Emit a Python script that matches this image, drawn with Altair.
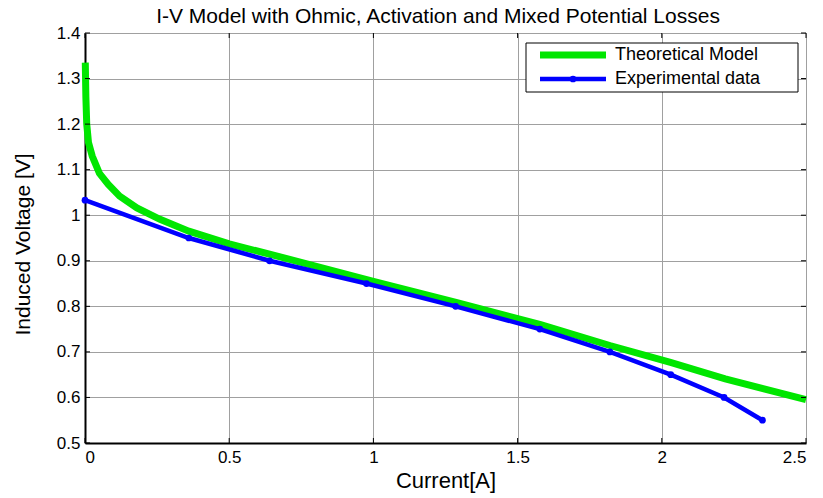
import altair as alt
import pandas as pd

# Theoretical I-V curve (ohmic + activation + mixed potential losses)
theory_current = [0.001, 0.003, 0.006, 0.012, 0.025, 0.05, 0.08, 0.12, 0.18, 0.26,
                  0.36, 0.5, 0.68, 1.0, 1.29, 1.58, 1.82, 2.03, 2.22, 2.5]
theory_voltage = [1.335, 1.26, 1.20, 1.16, 1.13, 1.092, 1.068, 1.042, 1.016, 0.991,
                  0.965, 0.937, 0.908, 0.855, 0.808, 0.760, 0.714, 0.677, 0.641, 0.595]

# Measured points
exp_current = [0.0, 0.36, 0.64, 0.976, 1.285, 1.577, 1.82, 2.031, 2.216, 2.349]
exp_voltage = [1.033, 0.95, 0.90, 0.85, 0.80, 0.75, 0.70, 0.65, 0.60, 0.55]

chart_title = ["I-V Model with Ohmic, Activation and Mixed Potential Losses"]
series_names = ["Theoretical Model", "Experimental data"]
x_ticks = [0, 0.5, 1, 1.5, 2, 2.5]
y_ticks = [0.5, 0.6, 0.7, 0.8, 0.9, 1.0, 1.1, 1.2, 1.3, 1.4]

GREEN = "#00e600"
BLUE = "#0000ff"
FONT = "Liberation Sans"
W, H = 721, 410

theory = pd.DataFrame({"current": theory_current, "voltage": theory_voltage})
exp = pd.DataFrame({"current": exp_current, "voltage": exp_voltage})
xt = pd.DataFrame({"v": x_ticks})
yt = pd.DataFrame({"v": y_ticks})

xscale = alt.Scale(domain=[0, 2.5], nice=False, zero=False)
yscale = alt.Scale(domain=[0.5, 1.4], nice=False, zero=False)

x_axis = alt.Axis(values=x_ticks, format=".1~f", grid=True, gridColor="#a0a0a0",
                  gridWidth=1, ticks=False, domainColor="black", domainWidth=2,
                  labelFont=FONT, labelFontSize=17, labelColor="black", labelPadding=6,
                  titleFont=FONT, titleFontSize=22, titleFontWeight="normal",
                  titleColor="black", titleY=37, titleBaseline="middle")
y_axis = alt.Axis(values=y_ticks, format=".1~f", grid=True, gridColor="#a0a0a0",
                  gridWidth=1, ticks=False, domainColor="black", domainWidth=2,
                  labelFont=FONT, labelFontSize=17, labelColor="black", labelPadding=5,
                  titleFont=FONT, titleFontSize=21, titleFontWeight="normal",
                  titleColor="black", titleX=-62, titleY=211, titleAngle=-90,
                  titleBaseline="middle", titleAlign="center")

X_TITLE = "Current[A]"
Y_TITLE = "Induced Voltage [V]"

theory_line = alt.Chart(theory).mark_line(color=GREEN, strokeWidth=7).encode(
    x=alt.X("current:Q", scale=xscale, axis=x_axis, title=X_TITLE),
    y=alt.Y("voltage:Q", scale=yscale, axis=y_axis, title=Y_TITLE),
)

exp_line = alt.Chart(exp).mark_line(color=BLUE, strokeWidth=4.5).encode(
    x=alt.X("current:Q", scale=xscale, title=X_TITLE),
    y=alt.Y("voltage:Q", scale=yscale, title=Y_TITLE),
)
exp_pts = alt.Chart(exp).mark_point(color=BLUE, filled=True, size=45, opacity=1).encode(
    x=alt.X("current:Q", scale=xscale, title=X_TITLE),
    y=alt.Y("voltage:Q", scale=yscale, title=Y_TITLE),
)

# Inward tick marks on all four sides
tick_style = dict(color="black", strokeWidth=1)
xt_bottom = alt.Chart(xt).mark_rule(**tick_style).encode(
    x=alt.X("v:Q", scale=xscale, title=X_TITLE), y=alt.value(H), y2=alt.value(H - 5))
xt_top = alt.Chart(xt).mark_rule(**tick_style).encode(
    x=alt.X("v:Q", scale=xscale, title=X_TITLE), y=alt.value(0), y2=alt.value(5))
yt_left = alt.Chart(yt).mark_rule(**tick_style).encode(
    y=alt.Y("v:Q", scale=yscale, title=Y_TITLE), x=alt.value(0), x2=alt.value(5))
yt_right = alt.Chart(yt).mark_rule(**tick_style).encode(
    y=alt.Y("v:Q", scale=yscale, title=Y_TITLE), x=alt.value(W), x2=alt.value(W - 5))

# Title text above the plot frame
title_df = pd.DataFrame({"t": chart_title})
title_mark = alt.Chart(title_df).mark_text(
    align="center", baseline="alphabetic", font=FONT, fontSize=21, color="black").encode(
    x=alt.value(353), y=alt.value(-10), text="t:N")

# Legend box in the upper right corner
leg_df = pd.DataFrame({"name": series_names})
leg_box = alt.Chart(leg_df.head(1)).mark_rect(fill="white", stroke="black", strokeWidth=1).encode(
    x=alt.value(441), x2=alt.value(713), y=alt.value(10), y2=alt.value(59))
leg_green = alt.Chart(leg_df.head(1)).mark_rule(color=GREEN, strokeWidth=7).encode(
    x=alt.value(455), x2=alt.value(521), y=alt.value(22))
leg_blue = alt.Chart(leg_df.head(1)).mark_rule(color=BLUE, strokeWidth=4.5).encode(
    x=alt.value(455), x2=alt.value(521), y=alt.value(46))
leg_blue_pt = alt.Chart(leg_df.head(1)).mark_point(color=BLUE, filled=True, size=45, opacity=1).encode(
    x=alt.value(488), y=alt.value(46))
leg_text1 = alt.Chart(leg_df.iloc[[0]]).mark_text(
    align="left", baseline="middle", font=FONT, fontSize=18, color="black").encode(
    x=alt.value(530), y=alt.value(22), text="name:N")
leg_text2 = alt.Chart(leg_df.iloc[[1]]).mark_text(
    align="left", baseline="middle", font=FONT, fontSize=18, color="black").encode(
    x=alt.value(530), y=alt.value(46), text="name:N")

chart = alt.layer(
    theory_line, exp_line, exp_pts,
    xt_bottom, xt_top, yt_left, yt_right, title_mark,
    leg_box, leg_green, leg_blue, leg_blue_pt, leg_text1, leg_text2,
).properties(
    width=W, height=H,
    autosize=alt.AutoSizeParams(type="none"),
    padding={"left": 85, "top": 33, "right": 17, "bottom": 55},
).configure_view(stroke="black", strokeWidth=1.5).configure(background="white")

chart.save("out.html", embed_options={"renderer": "svg", "actions": False})
